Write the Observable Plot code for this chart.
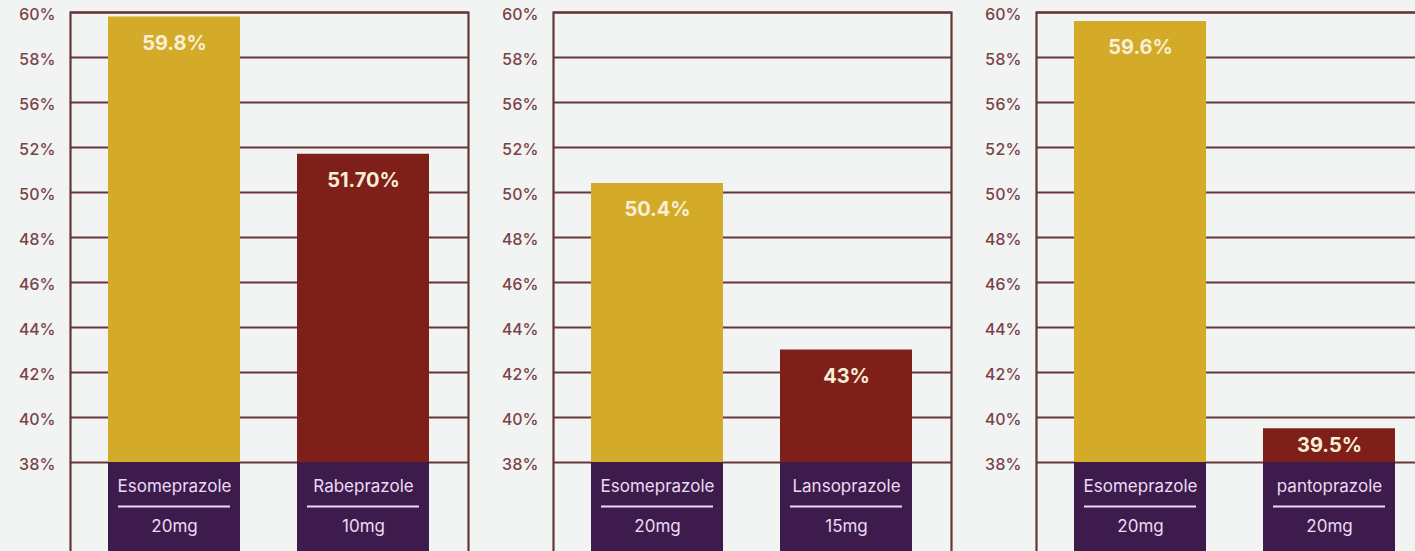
<!DOCTYPE html>
<html>
<head>
<meta charset="utf-8">
<script src="https://cdn.jsdelivr.net/npm/d3@7"></script>
<script src="https://cdn.jsdelivr.net/npm/@observablehq/plot@0.6"></script>
<style>
  html, body { margin: 0; padding: 0; background: #f1f4f2; width: 1415px; height: 551px; overflow: hidden; }
  #chart { display: flex; flex-direction: row; width: 1449px; }
  #chart svg { flex: none; display: block; }
</style>
</head>
<body>
<div id="chart"></div>
<script>
// ---- data ----
const panels = [0, 0, 1, 1, 2, 2];
const slots = ["first", "second", "first", "second", "first", "second"];
const drugs = ["Esomeprazole", "Rabeprazole", "Esomeprazole", "Lansoprazole", "Esomeprazole", "pantoprazole"];
const doses = ["20mg", "10mg", "20mg", "15mg", "20mg", "20mg"];
const values = [59.8, 51.7, 50.4, 43, 59.6, 39.5];
const valueLabels = ["59.8%", "51.70%", "50.4%", "43%", "59.6%", "39.5%"];
const tickValues = [38, 40, 42, 44, 46, 48, 50, 52, 56, 58, 60];
const tickLabels = ["38%", "40%", "42%", "44%", "46%", "48%", "50%", "52%", "56%", "58%", "60%"];
const slotColors = { first: "#d4ab28", second: "#7f1f1a" };

// ---- styling ----
const gridColor = "#663638";
const labelBox = "#3e1b4d";
const lavender = "#eadcf2";
const cream = "#f8efd6";
const axisColor = "#7a4347";

// the reference axis is evenly spaced per tick label (54% is skipped),
// so values are mapped onto tick-index units, piecewise between labels
const toIndex = d3.scaleLinear(tickValues, tickValues.map((_, i) => i));
const tickIdx = tickValues.map((_, i) => i);

const rows = values.map((v, i) => ({
  panel: panels[i], slot: slots[i], drug: drugs[i], dose: doses[i],
  value: v, label: valueLabels[i], idx: toIndex(v)
}));

const chart = document.getElementById("chart");
for (const p of [0, 1, 2]) {
  const data = rows.filter(d => d.panel === p);
  const svg = Plot.plot({
    width: 483,
    height: 552,
    marginLeft: 70,
    marginRight: 15,
    marginTop: 12,
    marginBottom: 0,
    style: { background: "transparent", fontFamily: "Inter, 'Noto Sans', sans-serif", overflow: "visible" },
    x: { domain: ["first", "second"], paddingInner: 0.3, paddingOuter: 0.2, axis: null },
    y: { domain: [-2, tickValues.length - 1], axis: null },
    marks: [
      Plot.ruleY(tickIdx, { stroke: gridColor, strokeWidth: 2.2 }),
      Plot.frame({ stroke: gridColor, strokeWidth: 2.2 }),
      Plot.axisY({
        ticks: tickIdx,
        tickFormat: i => tickLabels[i],
        tickSize: 0,
        tickPadding: 15,
        fontSize: 16,
        fontWeight: 500,
        color: axisColor,
        label: null,
        dy: 2
      }),
      Plot.barY(data, { x: "slot", y1: () => 0, y2: "idx", fill: d => slotColors[d.slot] }),
      Plot.barY(data, { x: "slot", y1: () => -2, y2: () => 0, fill: labelBox }),
      Plot.text(data, {
        x: "slot",
        y: d => Math.max(d.idx - 0.58, d.idx / 2),
        text: "label",
        fill: cream,
        fontSize: 20,
        fontWeight: "bold"
      }),
      Plot.text(data, { x: "slot", y: () => 0, dy: 24, text: "drug", fill: lavender, fontSize: 17 }),
      Plot.tickY(data, { x: "slot", y: () => 0, dy: 44, insetLeft: 10, insetRight: 10, stroke: lavender, strokeWidth: 2 }),
      Plot.text(data, { x: "slot", y: () => 0, dy: 64, text: "dose", fill: lavender, fontSize: 17 })
    ]
  });
  chart.appendChild(svg);
}
</script>
</body>
</html>
